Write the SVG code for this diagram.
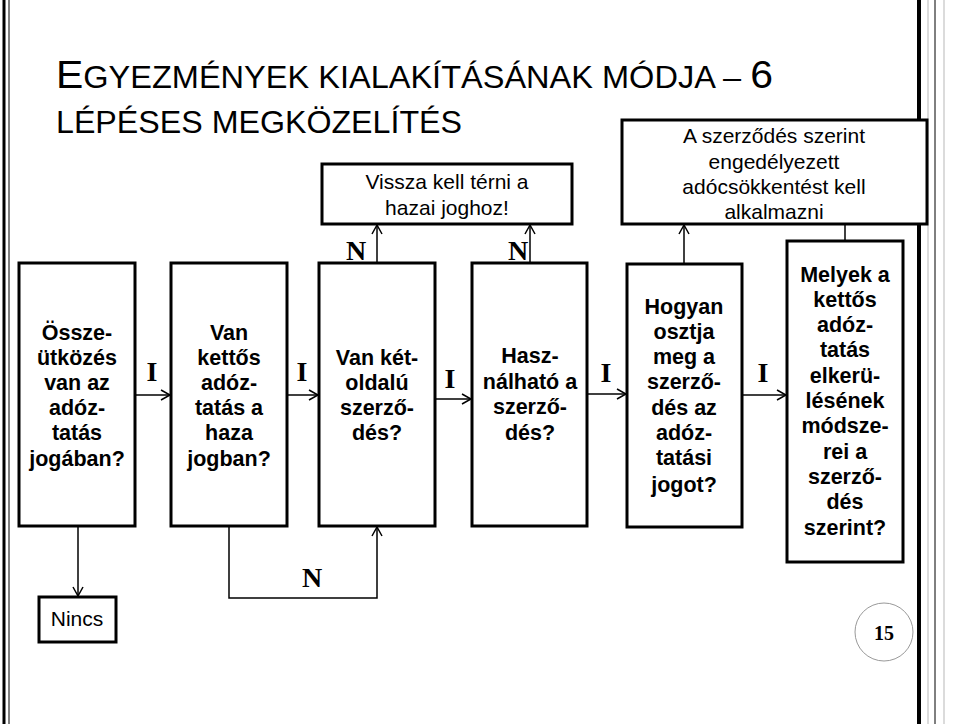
<svg xmlns="http://www.w3.org/2000/svg" width="960" height="724" viewBox="0 0 960 724">
<style>
.b{fill:#fff;stroke:#000;stroke-width:3}
.t{font-family:"Liberation Sans",Arial,sans-serif;font-weight:bold;font-size:21.5px;text-anchor:middle}
.n{font-family:"Liberation Sans",Arial,sans-serif;font-size:21px;text-anchor:middle}
.l{font-family:"Liberation Serif","Times New Roman",serif;font-weight:bold;font-size:28px;text-anchor:middle}
.c{fill:none;stroke:#000;stroke-width:1.5}
.h{font-family:"Liberation Sans",Arial,sans-serif;font-size:31px}
</style>
<defs><marker id="a" markerWidth="12" markerHeight="12" refX="10" refY="6" orient="auto" markerUnits="userSpaceOnUse"><path d="M1,1 L10,6 L1,11" fill="none" stroke="#000" stroke-width="1.5"/></marker></defs>
<rect width="960" height="724" fill="#fff"/>
<g id="border" stroke="#000">
<line x1="4" y1="0" x2="4" y2="724" stroke-width="3"/>
<line x1="9" y1="0" x2="9" y2="724" stroke-width="1"/>
<line x1="919" y1="0" x2="919" y2="724" stroke-width="4"/>
<line x1="928" y1="0" x2="928" y2="724" stroke-width="0.7" stroke="#999"/>
<line x1="935" y1="0" x2="935" y2="724" stroke-width="1"/>
<line x1="944" y1="0" x2="944" y2="724" stroke-width="0.7" stroke="#999"/>
</g>
<g id="title">
<text x="56" y="88" class="h" textLength="717" lengthAdjust="spacingAndGlyphs"><tspan font-size="39">E</tspan>GYEZMÉNYEK KIALAKÍTÁSÁNAK MÓDJA – <tspan font-size="39">6</tspan></text>
<text x="56" y="133" class="h" font-size="28" textLength="406" lengthAdjust="spacingAndGlyphs">LÉPÉSES MEGKÖZELÍTÉS</text>
</g>
<g id="connectors" class="c">
<line x1="135" y1="395" x2="170" y2="395" marker-end="url(#a)"/>
<line x1="287" y1="395" x2="318" y2="395" marker-end="url(#a)"/>
<line x1="435" y1="399" x2="471" y2="399" marker-end="url(#a)"/>
<line x1="587" y1="394" x2="626" y2="394" marker-end="url(#a)"/>
<line x1="742" y1="395" x2="786" y2="395" marker-end="url(#a)"/>
<line x1="78" y1="526" x2="78" y2="596" marker-end="url(#a)"/>
<polyline points="229,526 229,598 377,598 377,527" marker-end="url(#a)"/>
<line x1="377" y1="263" x2="377" y2="225" marker-end="url(#a)"/>
<line x1="530" y1="262" x2="530" y2="225" marker-end="url(#a)"/>
<line x1="684" y1="264" x2="684" y2="225" marker-end="url(#a)"/>
<line x1="845" y1="241" x2="845" y2="224"/>
</g>
<g id="labels" class="l">
<text x="152" y="381">I</text>
<text x="302" y="381">I</text>
<text x="450" y="388">I</text>
<text x="606" y="382">I</text>
<text x="763" y="382">I</text>
<text x="312" y="587">N</text>
<text x="356" y="260">N</text>
<text x="518" y="260">N</text>
</g>
<g id="n1"><rect class="b" x="19" y="263" width="116" height="263"/>
<text class="t"><tspan x="77" y="340">Össze-</tspan><tspan x="77" y="365">ütközés</tspan><tspan x="77" y="390">van az</tspan><tspan x="77" y="415">adóz-</tspan><tspan x="77" y="440">tatás</tspan><tspan x="77" y="466">jogában?</tspan></text></g>
<g id="n2"><rect class="b" x="171" y="263" width="116" height="263"/>
<text class="t"><tspan x="229" y="340">Van</tspan><tspan x="229" y="365">kettős</tspan><tspan x="229" y="390">adóz-</tspan><tspan x="229" y="415">tatás a</tspan><tspan x="229" y="440">haza</tspan><tspan x="229" y="466">jogban?</tspan></text></g>
<g id="n3"><rect class="b" x="319" y="263" width="116" height="263"/>
<text class="t"><tspan x="377" y="365">Van két-</tspan><tspan x="377" y="390">oldalú</tspan><tspan x="377" y="415">szerző-</tspan><tspan x="377" y="440">dés?</tspan></text></g>
<g id="n4"><rect class="b" x="472" y="263" width="115" height="263"/>
<text class="t"><tspan x="530" y="363">Hasz-</tspan><tspan x="530" y="389">nálható a</tspan><tspan x="530" y="414">szerző-</tspan><tspan x="530" y="440">dés?</tspan></text></g>
<g id="n5"><rect class="b" x="627" y="264" width="115" height="263"/>
<text class="t"><tspan x="684" y="314">Hogyan</tspan><tspan x="684" y="339">osztja</tspan><tspan x="684" y="364">meg a</tspan><tspan x="684" y="389">szerző-</tspan><tspan x="684" y="415">dés az</tspan><tspan x="684" y="440">adóz-</tspan><tspan x="684" y="465">tatási</tspan><tspan x="684" y="492">jogot?</tspan></text></g>
<g id="n6"><rect class="b" x="787" y="241" width="116" height="321"/>
<text class="t"><tspan x="845" y="282">Melyek a</tspan><tspan x="845" y="307">kettős</tspan><tspan x="845" y="332">adóz-</tspan><tspan x="845" y="357">tatás</tspan><tspan x="845" y="383">elkerü-</tspan><tspan x="845" y="408">lésének</tspan><tspan x="845" y="433">módsze-</tspan><tspan x="845" y="459">rei a</tspan><tspan x="845" y="484">szerző-</tspan><tspan x="845" y="509">dés</tspan><tspan x="845" y="535">szerint?</tspan></text></g>
<g id="vissza"><rect class="b" x="322" y="164" width="250" height="60"/>
<text class="n" font-size="22"><tspan x="447" y="189">Vissza kell térni a</tspan><tspan x="447" y="215">hazai joghoz!</tspan></text></g>
<g id="asz"><rect class="b" x="622" y="120" width="305" height="104"/>
<text class="n" font-size="22"><tspan x="774" y="143">A szerződés szerint</tspan><tspan x="774" y="169">engedélyezett</tspan><tspan x="774" y="194">adócsökkentést kell</tspan><tspan x="774" y="219">alkalmazni</tspan></text></g>
<g id="nincs"><rect class="b" x="39" y="597" width="77" height="45"/>
<text class="n" x="77" y="626">Nincs</text></g>
<g id="page"><circle cx="884" cy="632" r="29" fill="#fff" stroke="#999" stroke-width="1"/>
<text x="884" y="640" font-family="Liberation Serif,serif" font-weight="bold" font-size="20" text-anchor="middle">15</text></g>
</svg>
